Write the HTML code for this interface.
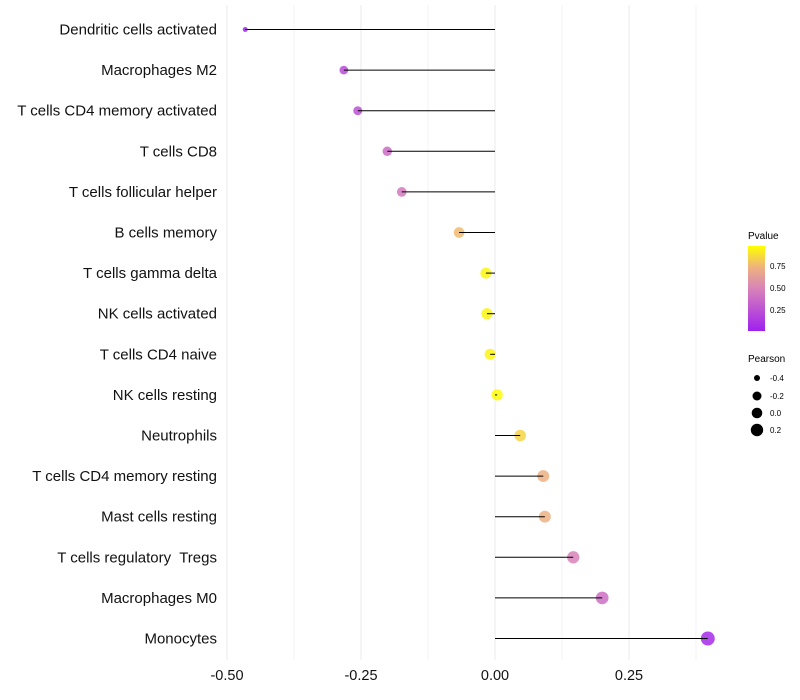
<!DOCTYPE html>
<html><head><meta charset="utf-8"><style>
body{margin:0;background:#fff;font-family:"Liberation Sans",sans-serif}
svg{display:block}
</style></head><body>
<svg id="chart" width="800" height="700">
<defs><linearGradient id="pg" x1="0" y1="1" x2="0" y2="0">
<stop offset="0" stop-color="#a020f0"/><stop offset="0.5" stop-color="#d883b8"/><stop offset="0.75" stop-color="#eeb27f"/><stop offset="1" stop-color="#ffff00"/></linearGradient></defs>
<g id="grid"></g><g id="marks"></g><g id="labels"></g>
<g>
<text x="748" y="239" font-size="10">Pvalue</text>
<rect x="748" y="246" width="17" height="85" fill="url(#pg)"/>
<g font-size="8"><text x="770" y="269">0.75</text><text x="770" y="291">0.50</text><text x="770" y="313">0.25</text></g>
</g>
<g>
<text x="748" y="362" font-size="10">Pearson</text>
<g font-size="8"><circle cx="757" cy="378" r="3"/><text x="770" y="381">-0.4</text>
<circle cx="757" cy="396" r="4.5"/><text x="770" y="399">-0.2</text>
<circle cx="757" cy="413" r="5.3"/><text x="770" y="416">0.0</text>
<circle cx="757" cy="430" r="6.2"/><text x="770" y="433">0.2</text></g>
</g>
</svg>
<script>
const categories=["Dendritic cells activated","Macrophages M2","T cells CD4 memory activated","T cells CD8","T cells follicular helper","B cells memory","T cells gamma delta","NK cells activated","T cells CD4 naive","NK cells resting","Neutrophils","T cells CD4 memory resting","Mast cells resting","T cells regulatory  Tregs","Macrophages M0","Monocytes"];
const pearson=[-0.466,-0.282,-0.256,-0.201,-0.174,-0.067,-0.017,-0.015,-0.009,0.004,0.047,0.090,0.093,0.146,0.200,0.397];
const pvalue=[0.02,0.22,0.25,0.38,0.45,0.78,0.97,0.97,0.97,0.99,0.86,0.74,0.74,0.5,0.4,0.05];
const xTicks=[-0.5,-0.25,0,0.25];
const xTickLabels=["-0.50","-0.25","0.00","0.25"];
const NS="http://www.w3.org/2000/svg";
const x=v=>495+v*536;
const y=i=>29.5+i*40.6;
function col(p){const st=[[0,[160,32,240]],[0.5,[216,131,184]],[0.75,[238,178,127]],[1,[255,255,0]]];
for(let k=1;k<st.length;k++){if(p<=st[k][0]){const a=st[k-1],b=st[k],t=(p-a[0])/(b[0]-a[0]);
return "rgb("+a[1].map((c,j)=>Math.round(c+(b[1][j]-c)*t)).join(",")+")";}}return "rgb(255,255,0)";}
const rad=v=>Math.sqrt(6+13*Math.min(1,(v+0.47)/0.19)+Math.max(0,v+0.28)*44);
function mk(t,at,p){const e=document.createElementNS(NS,t);for(const k in at)e.setAttribute(k,at[k]);p.appendChild(e);return e;}
const G=document.getElementById('grid'),M=document.getElementById('marks'),L=document.getElementById('labels');
for(let v=-0.5;v<=0.38;v+=0.125){const l=mk('line',{x1:x(v),x2:x(v),y1:5,y2:660,stroke:'#ebebeb','stroke-width':(Math.abs(v*4-Math.round(v*4))<1e-6)?1:0.6},G);

}
xTicks.forEach((v,i)=>{const t=mk('text',{x:x(v),y:680,'text-anchor':'middle','font-size':14.5,fill:'#111'},L);t.textContent=xTickLabels[i];

});
categories.forEach((c,i)=>{const t=mk('text',{x:217,y:y(i)+5,'text-anchor':'end','font-size':15,fill:'#111'},L);t.textContent=c;
t.setAttribute('xml:space','preserve');t.style.whiteSpace='pre';


const ci=mk('circle',{cx:x(pearson[i]),cy:y(i),r:rad(pearson[i]),fill:col(pvalue[i]),'fill-opacity':0.85},M);


const ln=mk('line',{x1:x(0),x2:x(pearson[i]),y1:y(i),y2:y(i),stroke:'#000','stroke-width':1},M);

});
</script>
</body></html>
